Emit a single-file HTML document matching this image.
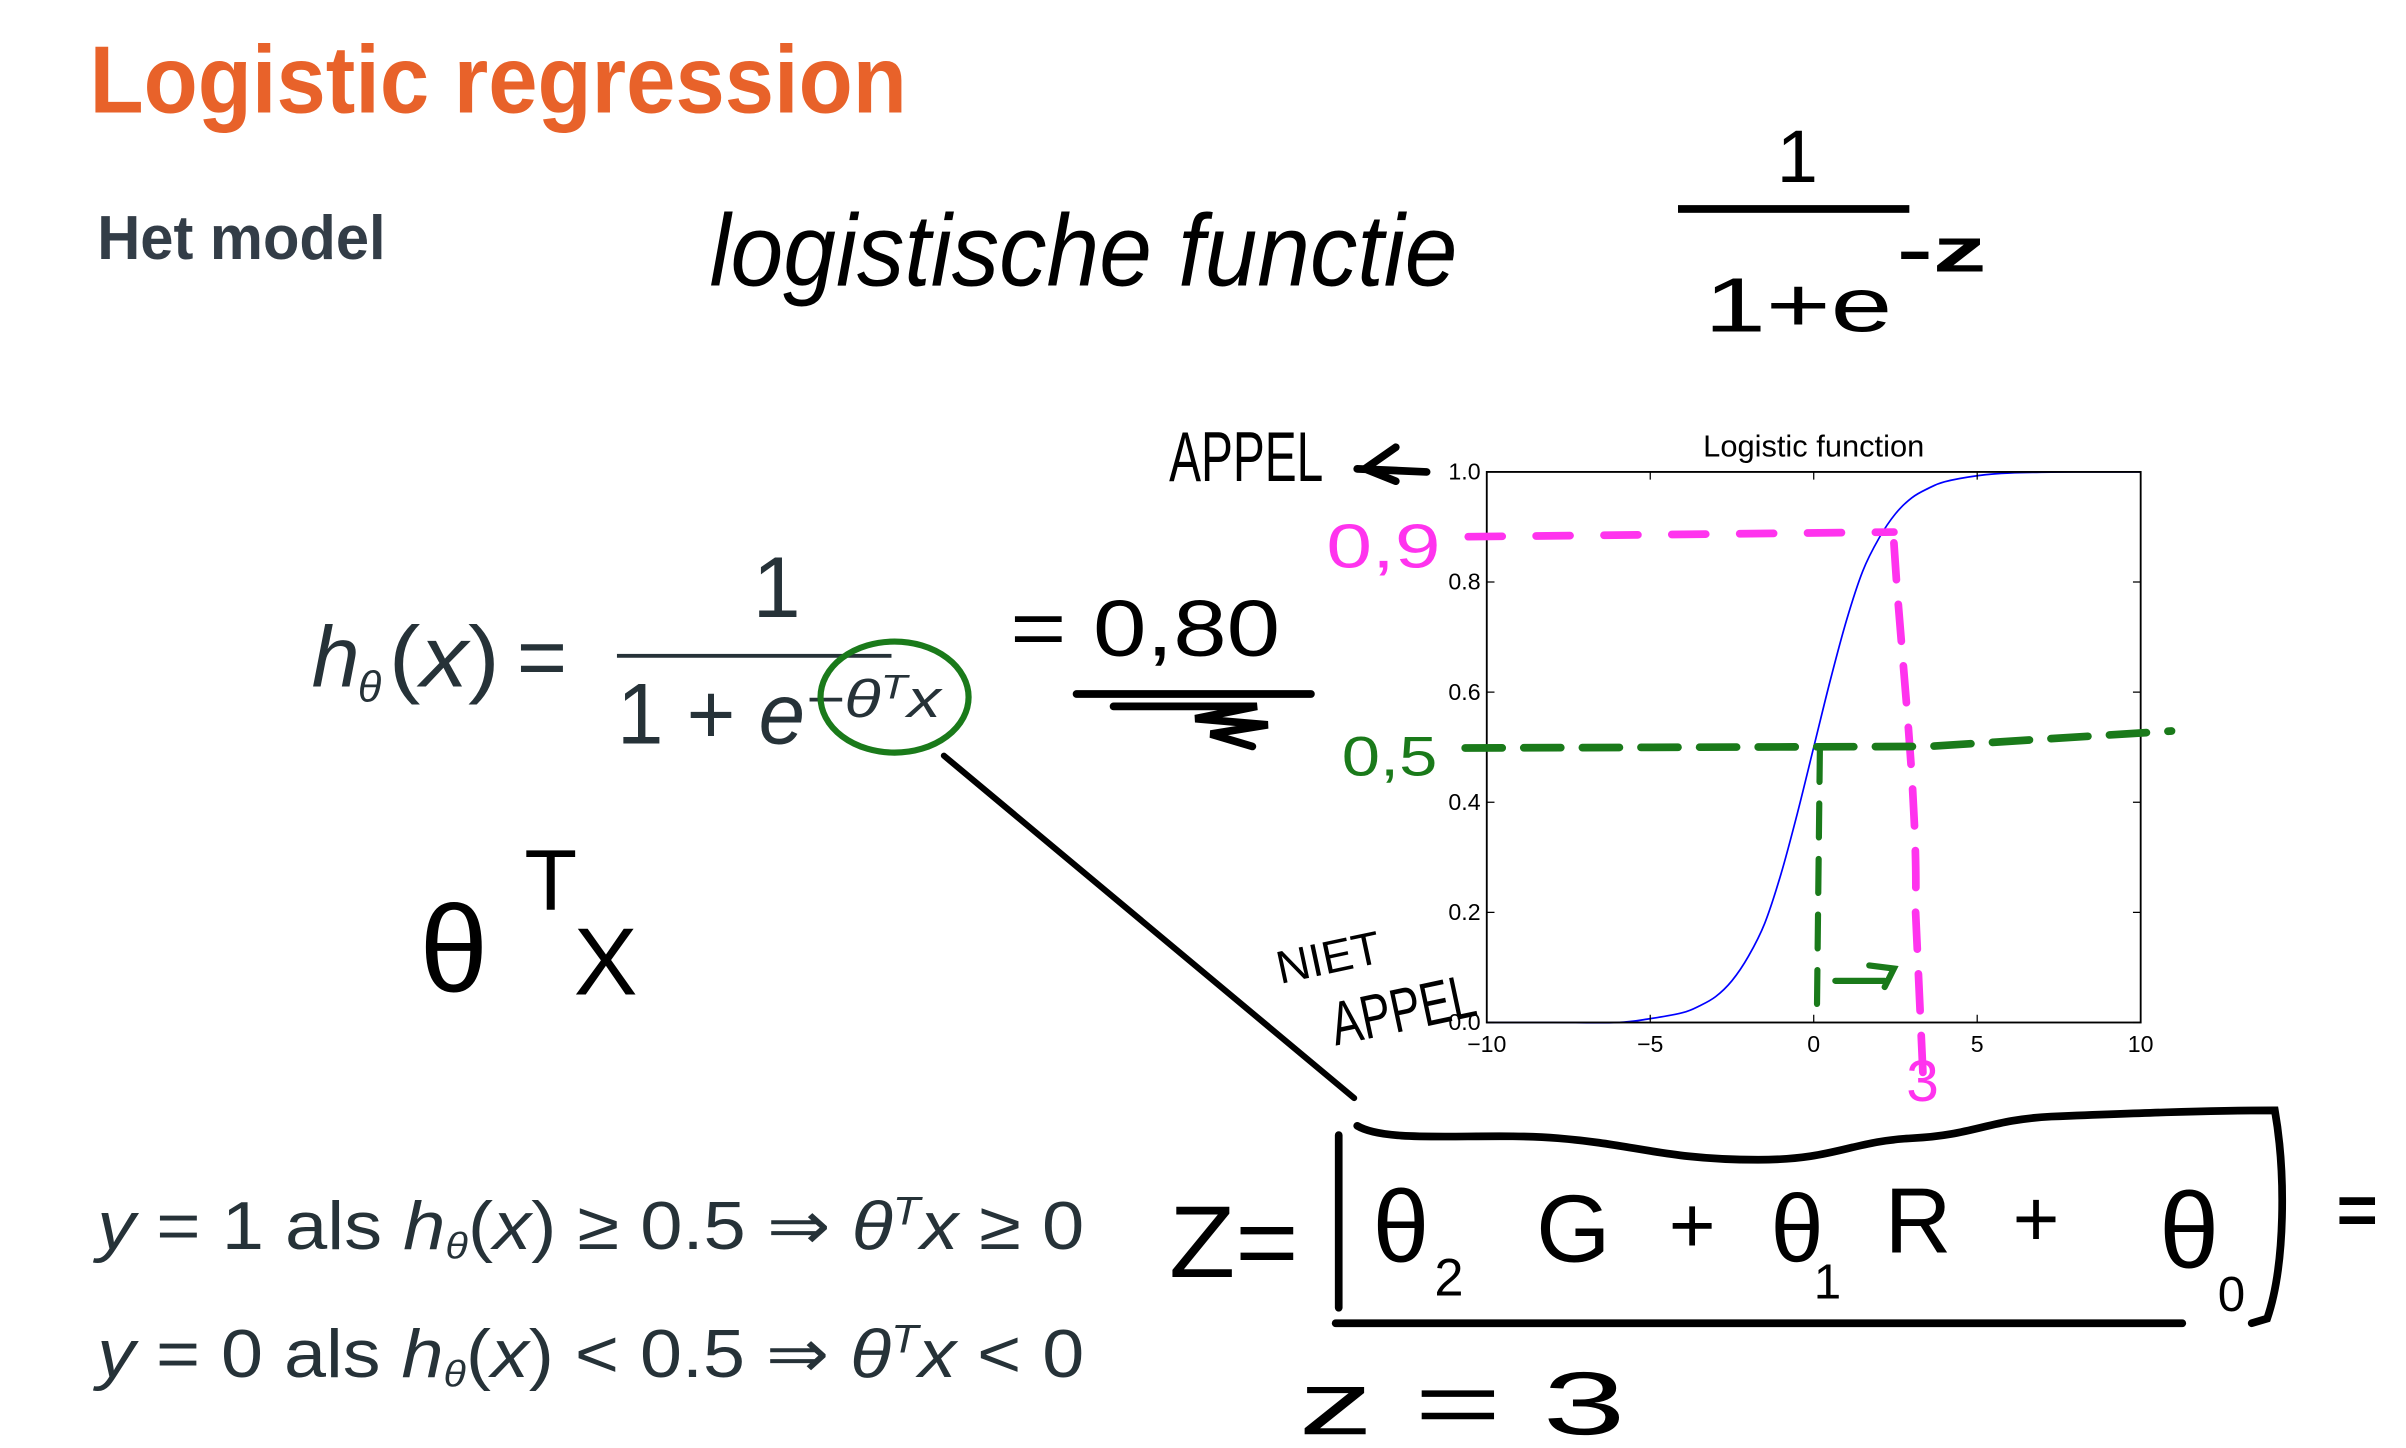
<!DOCTYPE html>
<html><head><meta charset="utf-8">
<style>
html,body{margin:0;padding:0;background:#fff;}
svg{display:block;}
.typ{font-family:"Liberation Sans",sans-serif;}
.hand{font-family:"Liberation Sans",sans-serif;}
</style></head>
<body>
<svg id="page" width="2406" height="1448" viewBox="0 0 1560 938.9" xmlns="http://www.w3.org/2000/svg">
<rect x="0" y="0" width="1560" height="938.9" fill="#fff"/>

<text class="typ" x="58" y="73" font-size="62" font-weight="bold" fill="#E8622A" textLength="530" lengthAdjust="spacingAndGlyphs">Logistic regression</text>
<text class="typ" x="63" y="168" font-size="40" font-weight="bold" fill="#333d47" textLength="187" lengthAdjust="spacingAndGlyphs">Het model</text>

<!-- formula -->
<g class="typ" fill="#263238">
<text x="202" y="445" font-size="56" font-style="italic">h</text>
<text x="232" y="455" font-size="28" font-style="italic">θ</text>
<text x="252" y="445" font-size="56" textLength="72" lengthAdjust="spacingAndGlyphs">(<tspan font-style="italic">x</tspan>)</text>
<text x="335" y="445" font-size="56">=</text>
<text x="488" y="400" font-size="56">1</text>
<rect x="400" y="424" width="178" height="2.5" fill="#263238"/>
<text x="400" y="482" font-size="56" textLength="122" lengthAdjust="spacingAndGlyphs">1 + <tspan font-style="italic">e</tspan></text>
<text x="522" y="465" font-size="34" font-style="italic" textLength="88" lengthAdjust="spacingAndGlyphs">−θ<tspan font-size="22" dy="-12">T</tspan><tspan dy="12">x</tspan></text>
</g>

<g class="typ" fill="#263238">
<text x="63" y="810" font-size="44" textLength="640" lengthAdjust="spacingAndGlyphs"><tspan font-style="italic">y</tspan> = 1 als <tspan font-style="italic">h</tspan><tspan font-size="24" font-style="italic" dy="6">θ</tspan><tspan dy="-6">(</tspan><tspan font-style="italic">x</tspan>) ≥ 0.5 ⇒ <tspan font-style="italic">θ</tspan><tspan font-size="26" font-style="italic" dy="-16">T</tspan><tspan font-style="italic" dy="16">x</tspan> ≥ 0</text>
</g>
<g class="typ" fill="#263238">
<text x="63" y="893" font-size="44" textLength="640" lengthAdjust="spacingAndGlyphs"><tspan font-style="italic">y</tspan> = 0 als <tspan font-style="italic">h</tspan><tspan font-size="24" font-style="italic" dy="6">θ</tspan><tspan dy="-6">(</tspan><tspan font-style="italic">x</tspan>) &lt; 0.5 ⇒ <tspan font-style="italic">θ</tspan><tspan font-size="26" font-style="italic" dy="-16">T</tspan><tspan font-style="italic" dy="16">x</tspan> &lt; 0</text>
</g>

<!-- handwritten annotations -->
<g class="hand" fill="#000">
<text x="460" y="185" font-size="66" font-style="italic" textLength="485" lengthAdjust="spacingAndGlyphs">logistische functie</text>
<text x="1152" y="118" font-size="48">1</text>
<rect x="1088" y="133" width="150" height="5" fill="#000"/>
<text x="1105" y="215" font-size="50" textLength="122" lengthAdjust="spacingAndGlyphs">1+e</text>
<text x="1230" y="176" font-size="40" font-weight="bold" textLength="58" lengthAdjust="spacingAndGlyphs">-z</text>
<text x="758" y="312" font-size="46" textLength="100" lengthAdjust="spacingAndGlyphs">APPEL</text>
<path d="M880 304 L925 306 M905 290 L885 304 L905 312" stroke="#000" stroke-width="5" fill="none" stroke-linecap="round"/>
<text x="655" y="425" font-size="52" textLength="175" lengthAdjust="spacingAndGlyphs">= 0,80</text>
<path d="M698 450 L850 450 M722 458 L815 458 L775 466 L822 470 L785 476 L812 484" stroke="#000" stroke-width="5" fill="none" stroke-linecap="round"/>
<text x="272" y="643" font-size="80">θ</text>
<text x="340" y="590" font-size="56">T</text>
<text x="372" y="645" font-size="62">X</text>
<path d="M612 490 L878 712" stroke="#000" stroke-width="4" fill="none" stroke-linecap="round"/>
<text x="830" y="638" font-size="30" transform="rotate(-12 830 638)">NIET</text>
<text x="866" y="678" font-size="40" transform="rotate(-12 866 678)" textLength="95" lengthAdjust="spacingAndGlyphs">APPEL</text>
<path d="M880 730 C900 742 960 734 1010 738 C1060 742 1080 752 1140 752 C1190 752 1200 740 1240 738 C1280 736 1290 726 1330 724 C1380 722 1430 720 1475 720 C1482 760 1482 820 1470 855 L1460 858 M868 736 L868 848 M866 858 L1415 858" stroke="#000" stroke-width="5" fill="none" stroke-linecap="round"/>
<text x="758" y="828" font-size="66" textLength="84" lengthAdjust="spacingAndGlyphs">Z=</text>
<text x="890" y="818" font-size="66">θ</text><text x="930" y="840" font-size="34">2</text>
<text x="996" y="818" font-size="62">G</text>
<text x="1082" y="812" font-size="52">+</text>
<text x="1148" y="818" font-size="62">θ</text><text x="1176" y="842" font-size="32">1</text>
<text x="1222" y="812" font-size="60">R</text>
<text x="1305" y="808" font-size="52">+</text>
<text x="1400" y="822" font-size="70">θ</text><text x="1438" y="850" font-size="32">0</text>
<text x="1515" y="800" font-size="46" font-weight="bold">=</text>
<text x="842" y="930" font-size="58" textLength="212" lengthAdjust="spacingAndGlyphs">z = 3</text>
</g>

<!-- chart -->
<g id="chart"></g>

<!-- overlay annotations on chart -->
<g>
<path d="M952 348 L1228 345" stroke="#ff33ee" stroke-width="5" stroke-dasharray="22 22" fill="none" stroke-linecap="round"/>
<path d="M1228 352 C1232 420 1244 520 1242 590 L1247 700" stroke="#ff33ee" stroke-width="5" stroke-dasharray="24 16" fill="none" stroke-linecap="round"/>
<text class="hand" x="860" y="368" font-size="40" fill="#ff33ee" textLength="74" lengthAdjust="spacingAndGlyphs">0,9</text>
<text class="hand" x="1236" y="714" font-size="38" fill="#ff33ee">3</text>
<path d="M950 485 L1250 484 L1408 474" stroke="#1a7a1a" stroke-width="5" stroke-dasharray="24 14" fill="none" stroke-linecap="round"/>
<path d="M1180 485 L1178 663" stroke="#1a7a1a" stroke-width="4" stroke-dasharray="22 14" fill="none" stroke-linecap="round"/>
<path d="M1190 636 L1222 636 M1212 626 L1228 628 L1222 640" stroke="#1a7a1a" stroke-width="4" fill="none" stroke-linecap="round"/>
<text class="hand" x="870" y="503" font-size="36" fill="#1a7a1a" textLength="62" lengthAdjust="spacingAndGlyphs">0,5</text>
<ellipse cx="580" cy="452" rx="48" ry="36" stroke="#1a7a1a" stroke-width="4" fill="none"/>
</g>
</svg>

<script>
const curveX = [-10,-8,-6,-5,-4,-3.5,-3,-2.5,-2,-1.5,-1,-0.5,0,0.5,1,1.5,2,2.5,3,3.5,4,5,6,8,10];
const curveY = [0.0,0.0,0.0,0.007,0.018,0.03,0.047,0.076,0.12,0.18,0.27,0.38,0.5,0.62,0.73,0.82,0.88,0.924,0.953,0.97,0.982,0.993,0.998,1.0,1.0];
const xTicks = [-10,-5,0,5,10];
const xTickLabels = ["\u221210","\u22125","0","5","10"];
const yTicks = [0,0.2,0.4,0.6,0.8,1.0];
const yTickLabels = ["0.0","0.2","0.4","0.6","0.8","1.0"];

const NS = "http://www.w3.org/2000/svg";
const L = 964, R = 1388, T = 306, B = 663;
const xMin = -10, xMax = 10, yMin = 0, yMax = 1;
function sx(v){ return L + (v - xMin) / (xMax - xMin) * (R - L); }
function sy(v){ return B - (v - yMin) / (yMax - yMin) * (B - T); }
const chart = document.getElementById('chart');
function mk(tag, attrs){ const e = document.createElementNS(NS, tag); for (const k in attrs) e.setAttribute(k, attrs[k]); return e; }

const title = mk('text', {x:(L+R)/2, y:296, 'text-anchor':'middle', 'font-size':20, 'font-family':'Liberation Sans, sans-serif', fill:'#000'});


title.textContent = 'Logistic function';
chart.appendChild(title);

const pts = curveX.map((x,i)=>[sx(x), sy(curveY[i])]);
let d = 'M' + pts[0][0] + ' ' + pts[0][1];
for (let i = 0; i < pts.length - 1; i++) {
  const p0 = pts[Math.max(0,i-1)], p1 = pts[i], p2 = pts[i+1], p3 = pts[Math.min(pts.length-1,i+2)];
  const c1x = p1[0] + (p2[0]-p0[0])/6, c1y = p1[1] + (p2[1]-p0[1])/6;
  const c2x = p2[0] - (p3[0]-p1[0])/6, c2y = p2[1] - (p3[1]-p1[1])/6;
  d += ' C' + c1x + ' ' + c1y + ' ' + c2x + ' ' + c2y + ' ' + p2[0] + ' ' + p2[1];
}
const line = mk('path', {d:d, stroke:'#0000ff', 'stroke-width':1.1, fill:'none'});


chart.appendChild(line);

const frame = mk('rect', {x:L, y:T, width:R-L, height:B-T, fill:'none', stroke:'#000', 'stroke-width':1.2});


chart.appendChild(frame);

xTicks.forEach((v,i)=>{
  const x = sx(v);
  chart.appendChild(mk('path', {d:'M'+x+' '+B+' v-5 M'+x+' '+T+' v5', stroke:'#000', 'stroke-width':0.8}));
  const t = mk('text', {x:x, y:B+19, 'text-anchor':'middle', 'font-size':15, 'font-family':'Liberation Sans, sans-serif', fill:'#000'});
  
  
  t.textContent = xTickLabels[i];
  chart.appendChild(t);
});
yTicks.forEach((v,i)=>{
  const y = sy(v);
  chart.appendChild(mk('path', {d:'M'+L+' '+y+' h5 M'+R+' '+y+' h-5', stroke:'#000', 'stroke-width':0.8}));
  const t = mk('text', {x:L-4, y:y+5, 'text-anchor':'end', 'font-size':15, 'font-family':'Liberation Sans, sans-serif', fill:'#000'});
  
  
  t.textContent = yTickLabels[i];
  chart.appendChild(t);
});
</script>
</body></html>
